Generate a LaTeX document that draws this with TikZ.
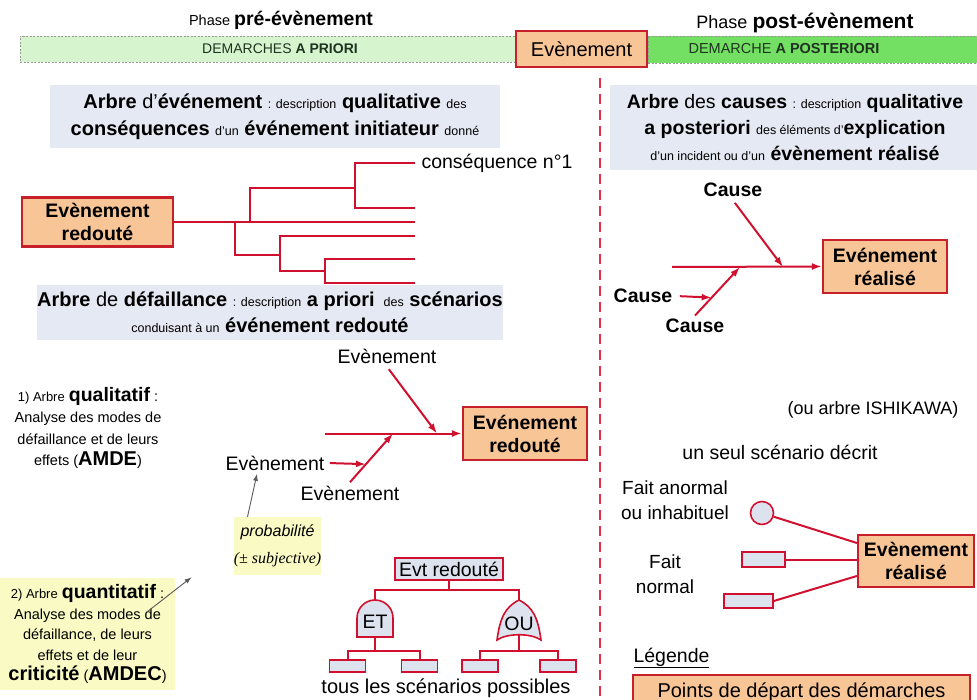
\documentclass[tikz,border=0pt]{standalone}
\usepackage{fontspec}
\setmainfont{Liberation Sans}
\newfontfamily\serifface{Liberation Serif}
\usetikzlibrary{arrows.meta,calc}
\definecolor{linered}{HTML}{D0102E}
\definecolor{boxred}{HTML}{C8202A}
\definecolor{cutred}{HTML}{E62E4C}
\definecolor{startfill}{HTML}{F8C597}
\definecolor{descfill}{HTML}{E5E9F3}
\definecolor{leaffill}{HTML}{DCE3EE}
\definecolor{greenpale}{HTML}{D6F5CF}
\definecolor{greenbright}{HTML}{74E063}
\definecolor{notefill}{HTML}{FAFAC4}
\definecolor{bandtext}{HTML}{1E3320}
\newcommand\szL{\fontsize{19.5}{23}\selectfont}
\newcommand\szM{\fontsize{14.5}{17}\selectfont}
\newcommand\szS{\fontsize{12.5}{15}\selectfont}
\tikzset{
    redline/.style={draw=linered,line width=2pt},
    redarrow/.style={redline,-{Latex[length=10pt,width=7pt]}},
    grayarrow/.style={draw=gray!70!black,line width=0.9pt,-{Latex[length=7pt,width=5pt]}},
    startbox/.style={draw=boxred,line width=2.2pt,fill=startfill,align=center,inner sep=2pt,font=\bfseries\szL},
    descbox/.style={fill=descfill,align=center,inner sep=0pt},
    phaseband/.style={draw=gray!80,dash pattern=on 2pt off 1.5pt,line width=0.6pt},
    leafbox/.style={draw=linered,line width=1.6pt,fill=leaffill,inner sep=0pt},
    notebox/.style={fill=notefill,align=center,inner sep=0pt},
    gateshape/.style={draw=linered,line width=1.6pt,fill=leaffill},
    cutline/.style={draw=cutred,line width=1.6pt,dash pattern=on 10pt off 6pt}
}
\begin{document}
\begin{tikzpicture}[x=1pt,y=-1pt]
    \useasboundingbox (0,0) rectangle (977,700);

    \node[font=\szM] (prephase) at (281,20) {Phase {\bfseries\szL pré-évènement}};
    \node[font=\fontsize{18}{20}\selectfont] (postphase) at (805,23) {Phase {\bfseries\fontsize{21}{24}\selectfont post-évènement}};
    \node[phaseband,fill=greenpale,minimum width=495pt,minimum height=26pt] (prioriband) at (267.5,49) {};
    \node[font=\fontsize{14}{16}\selectfont,text=bandtext] (prioritext) at (280,49) {DEMARCHES \textbf{A PRIORI}};
    \node[phaseband,fill=greenbright,minimum width=334pt,minimum height=27pt] (posterioriband) at (815,49.5) {};
    \node[font=\fontsize{14.5}{16}\selectfont,text=bandtext] (posterioritext) at (784,49) {DEMARCHE \textbf{A POSTERIORI}};
    \node[startbox,font=\fontsize{20}{24}\selectfont,minimum width=131pt,minimum height=36pt] (evenement) at (581.5,49) {Evènement};

    \coordinate (cutTop) at (600,78);
    \coordinate (cutBot) at (600,700);
    \draw[cutline] (cutTop) -- (cutBot);

    \node[descbox,minimum width=450pt,minimum height=63pt,font=\fontsize{20}{27}\selectfont] (evtreehead) at (275,116.5)
        {\textbf{Arbre} d'\textbf{événement} {\szS : description} \textbf{qualitative} {\szS des}\\
         \textbf{conséquences} {\szS d'un} \textbf{événement initiateur} {\szS donné}};

    \node[startbox,minimum width=151pt,minimum height=49pt] (redoute) at (97.5,222) {Evènement\\redouté};
    \foreach \i/\y in {1/163,2/208,3/222,4/236,5/259,6/283}
        \coordinate (leaf\i) at (415,\y);
    \coordinate (forkA) at (250,222);
    \coordinate (forkB) at (355,188);
    \coordinate (forkC) at (235,222);
    \coordinate (forkD) at (280,255);
    \coordinate (forkE) at (325,271);
    \draw[redline] (redoute.east) -- (leaf3);
    \draw[redline] (forkA) |- (forkB);
    \draw[redline] (leaf1) -| (forkB |- leaf2) -- (leaf2);
    \draw[redline] (forkC) |- (forkD);
    \draw[redline] (leaf4) -| (forkD |- forkE) -- (forkE);
    \draw[redline] (leaf5) -| (forkE |- leaf6) -- (leaf6);
    \node[font=\szL,anchor=west] (conseq) at ([xshift=3pt]leaf1) {conséquence n°1};

    \node[descbox,minimum width=460pt,minimum height=55pt,font=\fontsize{20}{26}\selectfont] (ftreehead) at (270,312.5)
        {\textbf{Arbre} de \textbf{défaillance} {\szS : description} \textbf{a priori} {\szS\ des} \textbf{scénarios}\\
         {\szS conduisant à un} \textbf{événement redouté}};

    \node[startbox,minimum width=124pt,minimum height=53pt] (redoutebis) at (525,433.5) {Evénement\\redouté};
    \node[font=\szL] (evUp) at (387,356) {Evènement};
    \node[font=\szL] (evLeft) at (275,463) {Evènement};
    \node[font=\szL] (evLow) at (350,493) {Evènement};
    \coordinate (spineA) at (325,433.5);
    \coordinate (hitA) at (437,433.5);
    \coordinate (hitB) at (393,433.5);
    \coordinate (hitC) at ($(evLow.north)!0.37!(hitB)$);
    \draw[redarrow] (spineA) -- (redoutebis.west);
    \draw[redarrow,shorten <=3pt] (evUp.south) -- (hitA);
    \draw[redarrow] (evLow.north) -- (hitB);
    \draw[redarrow,shorten <=2pt] (evLeft.east) -- (hitC);

    \node[align=center,font=\fontsize{14.5}{21.5}\selectfont] (qualnote) at (88,428)
        {{\fontsize{13}{15}\selectfont 1) Arbre} {\bfseries\szL qualitatif} :\\Analyse des modes de\\défaillance et de leurs\\effets ({\bfseries\fontsize{20}{22}\selectfont AMDE})};
    \node[notebox,minimum width=175pt,minimum height=112pt,font=\fontsize{14.5}{20.5}\selectfont] (quantnote) at (87.5,634)
        {{\fontsize{13}{15}\selectfont 2) Arbre} {\bfseries\szL quantitatif} :\\Analyse des modes de\\défaillance, de leurs\\effets et de leur\\{\bfseries\fontsize{20}{22}\selectfont criticité} ({\bfseries\fontsize{20}{22}\selectfont AMDEC})};
    \node[notebox,minimum width=85pt,minimum height=58pt,font=\fontsize{16}{27}\selectfont\itshape] (probab) at (277.5,546)
        {probabilité\\{\serifface\itshape (± subjective)}};
    \draw[grayarrow] ([xshift=-30pt]probab.north) -- ([xshift=-18pt]evLeft.south);
    \draw[grayarrow] ([shift={(-28pt,-34pt)}]quantnote.north east) -- ([shift={(-42pt,-2pt)}]probab.south west);

    \node[leafbox,font=\szL,inner sep=1.5pt,minimum width=108pt,minimum height=22pt] (evtred) at (449,569) {Evt redouté};
    \coordinate (busMain) at (449,590);
    \coordinate (andTop) at (375,600);
    \coordinate (andBase) at (375,637);
    \coordinate (orTop) at (519,600);
    \coordinate (orL) at (497,640);
    \coordinate (orR) at (541,640);
    \coordinate (orBase) at (519,635);
    \draw[redline] (evtred.south) -- (busMain);
    \draw[redline] (andTop) |- (busMain) -| (orTop);
    \draw[gateshape] ([xshift=-18pt]andBase) -- ++(0pt,19pt) arc[start angle=180,end angle=0,radius=18pt] -- ([xshift=18pt]andBase) -- cycle;
    \draw[gateshape] (orL) .. controls +(3pt,22pt) and +(-14pt,-7pt) .. (orTop)
        .. controls +(14pt,-7pt) and +(-3pt,22pt) .. (orR)
        .. controls +(-10pt,7pt) and +(10pt,7pt) .. (orL) -- cycle;
    \node[font=\szL] (etlabel) at (375,622) {ET};
    \node[font=\szL] (oulabel) at (519,624) {OU};
    \coordinate (andBus) at (375,651);
    \coordinate (orBus) at (519,651);
    \foreach \n/\x in {1/347.5,2/419.5,3/480,4/558}
        \node[leafbox,minimum width=36pt,minimum height=12pt] (scen\n) at (\x,666) {};
    \draw[redline] (andBase) -- (andBus);
    \draw[redline] (scen1.north) |- (andBus) -| (scen2.north);
    \draw[redline] (orBase) -- (orBus);
    \draw[redline] (scen3.north) |- (orBus) -| (scen4.north);
    \node[font=\fontsize{20}{24}\selectfont] (touslabel) at (446,688) {tous les scénarios possibles};

    \node[descbox,minimum width=370pt,minimum height=85pt,font=\fontsize{19.5}{26}\selectfont] (causehead) at (795,127.5)
        {\textbf{Arbre} des \textbf{causes} {\szS : description} \textbf{qualitative}\\
         \textbf{a posteriori} {\szS des éléments d'}\textbf{explication}\\
         {\szS d'un incident ou d'un} \textbf{évènement réalisé}};

    \node[startbox,minimum width=124pt,minimum height=53pt] (realise) at (885,266.5) {Evénement\\réalisé};
    \node[font=\bfseries\szL] (causeUp) at (733,190) {Cause};
    \node[font=\bfseries\szL] (causeLeft) at (643,296) {Cause};
    \node[font=\bfseries\szL] (causeLow) at (695,326) {Cause};
    \coordinate (spineB) at (672,267);
    \coordinate (hitD) at (783,267);
    \coordinate (hitE) at (740,267);
    \coordinate (hitF) at ($(causeLow.north)!0.37!(hitE)$);
    \draw[redarrow] (spineB) -- (realise.west);
    \draw[redarrow,shorten <=3pt] (causeUp.south) -- (hitD);
    \draw[redarrow] (causeLow.north) -- (hitE);
    \draw[redarrow,shorten <=4pt] (causeLeft.east) -- (hitF);

    \node[font=\fontsize{18}{21}\selectfont] (ishikawa) at (873,410) {(ou arbre ISHIKAWA)};
    \node[font=\szL] (unseul) at (780,452) {un seul scénario décrit};
    \node[font=\fontsize{19}{25}\selectfont,align=center] (anormal) at (675,500) {Fait anormal\\ou inhabituel};
    \node[circle,draw=linered,line width=1.6pt,fill=leaffill,minimum size=23pt,inner sep=0pt] (oddfact) at (762,513) {};
    \node[startbox,minimum width=116pt,minimum height=52pt] (realisebis) at (916,561) {Evènement\\réalisé};
    \node[leafbox,minimum width=43pt,minimum height=15pt] (normA) at (763.5,559.5) {};
    \node[leafbox,minimum width=49pt,minimum height=14pt] (normB) at (748.5,601) {};
    \node[font=\fontsize{19}{25}\selectfont,align=center] (normal) at (665,574) {Fait\\normal};
    \draw[redline] (oddfact) -- ([yshift=18pt]realisebis.west);
    \draw[redline] (normA.east) -- (normA.east -| realisebis.west);
    \draw[redline] (normB.east) -- ([yshift=-15pt]realisebis.west);

    \node[font=\szL,anchor=west] (legende) at (630,658) {\underline{Légende}};
    \node[startbox,font=\fontsize{20}{24}\selectfont,line width=1.5pt,minimum width=337pt,minimum height=34pt] (legendbox) at (801.5,692) {Points de départ des démarches};
\end{tikzpicture}
\end{document}
